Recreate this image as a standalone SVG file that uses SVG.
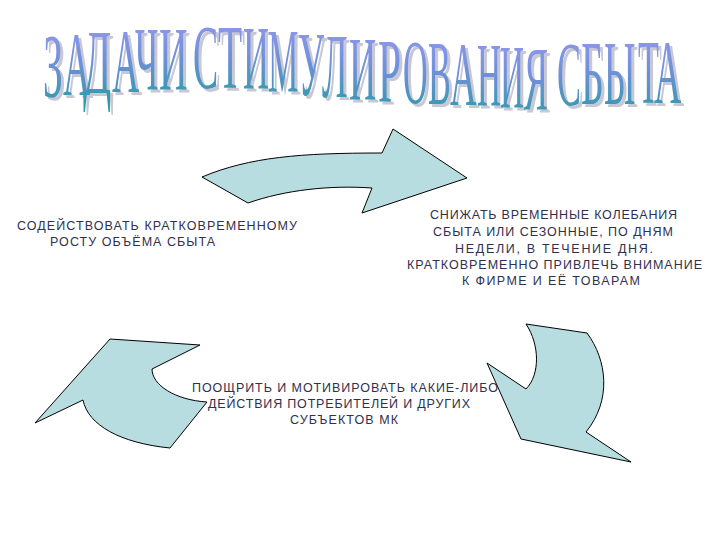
<svg xmlns="http://www.w3.org/2000/svg" xmlns:xlink="http://www.w3.org/1999/xlink" width="720" height="540" viewBox="0 0 720 540">
<defs>
<linearGradient id="tg" x1="0" y1="0" x2="0" y2="1">
<stop offset="0" stop-color="#9c9af2"/>
<stop offset="0.5" stop-color="#6c90d8"/>
<stop offset="1" stop-color="#1f9ea0"/>
</linearGradient>
<style>
.ttl{font-family:"Liberation Serif","Times New Roman",serif;font-size:90px;}
.lbl{font-family:"Liberation Sans",Arial,sans-serif;font-size:12.5px;fill:#30304e;}
.arr{fill:#b8dde0;stroke:#000;stroke-width:1;stroke-linejoin:miter;}
</style>
<g id="letters">
<text class="ttl" transform="translate(43,97) scale(0.44,1)">З</text>
<text class="ttl" transform="translate(63,95) scale(0.42,1)">А</text>
<text class="ttl" transform="translate(83,93) scale(0.46,1)">Д</text>
<text class="ttl" transform="translate(112,92) scale(0.42,1)">А</text>
<text class="ttl" transform="translate(135,90) scale(0.4,1)">Ч</text>
<text class="ttl" transform="translate(159,90) scale(0.44,1)">И</text>
<text class="ttl" transform="translate(193,88) scale(0.42,1)">С</text>
<text class="ttl" transform="translate(218,88) scale(0.44,1)">Т</text>
<text class="ttl" transform="translate(243,89) scale(0.4,1)">И</text>
<text class="ttl" transform="translate(268,92) scale(0.38,1)">М</text>
<text class="ttl" transform="translate(298,95) scale(0.41,1)">У</text>
<text class="ttl" transform="translate(322,97) scale(0.42,1)">Л</text>
<text class="ttl" transform="translate(349,100) scale(0.42,1)">И</text>
<text class="ttl" transform="translate(378,102) scale(0.46,1)">Р</text>
<text class="ttl" transform="translate(403,103) scale(0.38,1)">О</text>
<text class="ttl" transform="translate(428,104) scale(0.38,1)">В</text>
<text class="ttl" transform="translate(450,105) scale(0.41,1)">А</text>
<text class="ttl" transform="translate(477,106) scale(0.37,1)">Н</text>
<text class="ttl" transform="translate(500,108) scale(0.37,1)">И</text>
<text class="ttl" transform="translate(524,110) scale(0.4,1)">Я</text>
<text class="ttl" transform="translate(557,105) scale(0.4,1)">С</text>
<text class="ttl" transform="translate(581,104) scale(0.44,1)">Б</text>
<text class="ttl" transform="translate(604,104) scale(0.4,1)">Ы</text>
<text class="ttl" transform="translate(638,103) scale(0.38,1)">Т</text>
<text class="ttl" transform="translate(654,103) scale(0.42,1)">А</text>
</g>
</defs>
<rect width="720" height="540" fill="#ffffff"/>
<g id="title">
<use xlink:href="#letters" href="#letters" fill="#c8c8d4" transform="translate(3,3)"/>
<use xlink:href="#letters" href="#letters" fill="url(#tg)"/>
</g>
<g id="connectors">
<path class="arr" d="M202,177 C250,157 300,153 382,153 L393,129 L467,178 L362,213 L372,188 C330,185 285,190 248,203 Z"/>
<path class="arr" d="M526,324 L587,333 C607,360 612,400 586,432 L631,462 L521,439 L487,363 L526,389 C540,375 540,345 526,324 Z"/>
<path class="arr" d="M35,423 L110,339 L200,345 L152,369 C152,385 175,400 207,402 L170,448 C120,443 88,425 83,400 Z"/>
</g>
<g id="node-left">
<text class="lbl" x="17" y="230" textLength="280">СОДЕЙСТВОВАТЬ КРАТКОВРЕМЕННОМУ</text>
<text class="lbl" x="50" y="246" textLength="165">РОСТУ ОБЪЁМА СБЫТА</text>
</g>
<g id="node-right">
<text class="lbl" x="430" y="219" textLength="247">СНИЖАТЬ ВРЕМЕННЫЕ КОЛЕБАНИЯ</text>
<text class="lbl" x="433" y="236" textLength="240">СБЫТА ИЛИ СЕЗОННЫЕ, ПО ДНЯМ</text>
<text class="lbl" x="455" y="253" textLength="198">НЕДЕЛИ, В ТЕЧЕНИЕ ДНЯ.</text>
<text class="lbl" x="407" y="269" textLength="295">КРАТКОВРЕМЕННО ПРИВЛЕЧЬ ВНИМАНИЕ</text>
<text class="lbl" x="462" y="285" textLength="178">К ФИРМЕ И ЕЁ ТОВАРАМ</text>
</g>
<g id="node-bottom">
<text class="lbl" x="192" y="392" textLength="306">ПООЩРИТЬ И МОТИВИРОВАТЬ КАКИЕ-ЛИБО</text>
<text class="lbl" x="208" y="408" textLength="262">ДЕЙСТВИЯ ПОТРЕБИТЕЛЕЙ И ДРУГИХ</text>
<text class="lbl" x="290" y="424" textLength="108">СУБЪЕКТОВ МК</text>
</g>
</svg>
